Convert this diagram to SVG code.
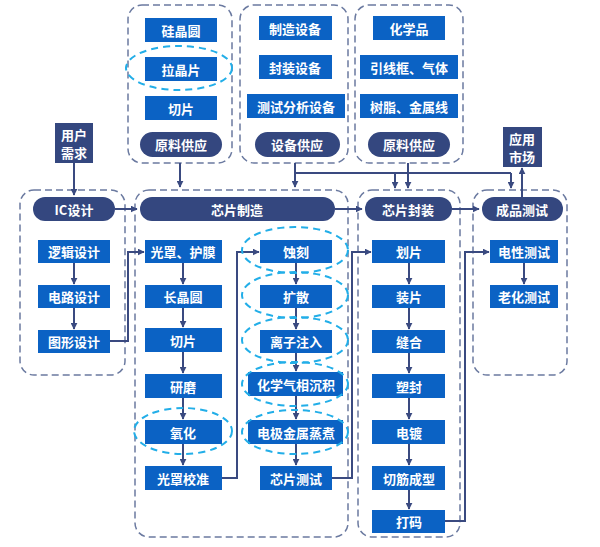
<svg xmlns="http://www.w3.org/2000/svg" width="600" height="547" viewBox="0 0 600 547">
<defs>
<marker id="ar" viewBox="0 0 10 10" refX="9" refY="5" markerWidth="7" markerHeight="7" markerUnits="userSpaceOnUse" orient="auto"><path d="M0,0L10,5L0,10z" fill="#3a4a80"/></marker>
<style>
.b{fill:#0b62c4}
.p{fill:#34477f}
.g{fill:none;stroke:#6b7aa0;stroke-width:1.5;stroke-dasharray:7,4}
.e{fill:none;stroke:#22aee8;stroke-width:2;stroke-dasharray:7,5}
text{font-family:"Noto Sans CJK SC","Liberation Sans",sans-serif;font-size:13px;font-weight:bold;fill:#fff;text-anchor:middle;dominant-baseline:central}
.c path,.c line{fill:none;stroke:#3a4a80;stroke-width:2}
</style>
</defs>
<rect width="600" height="547" fill="#fff"/>
<g id="groups">
<rect class="g" x="128" y="5" width="104" height="158" rx="14"/>
<rect class="g" x="240" y="5" width="108" height="158" rx="14"/>
<rect class="g" x="355" y="5" width="108" height="158" rx="14"/>
<rect class="g" x="20" y="190" width="105" height="185" rx="14"/>
<rect class="g" x="135" y="190" width="213" height="347" rx="14"/>
<rect class="g" x="358" y="190" width="102" height="347" rx="14"/>
<rect class="g" x="473" y="190" width="94" height="185" rx="14"/>
</g>
<g class="c" id="connectors">
<line x1="180" y1="163" x2="180" y2="187" marker-end="url(#ar)"/>
<line x1="295" y1="163" x2="295" y2="187" marker-end="url(#ar)"/>
<path d="M295,173H511"/>
<line x1="395" y1="173" x2="395" y2="188" marker-end="url(#ar)"/>
<line x1="511" y1="173" x2="511" y2="188" marker-end="url(#ar)"/>
<line x1="408" y1="163" x2="408" y2="188" marker-end="url(#ar)"/>
<line x1="74" y1="163" x2="74" y2="195" marker-end="url(#ar)"/>
<line x1="522" y1="197" x2="522" y2="168" marker-end="url(#ar)"/>
<line x1="115" y1="209" x2="137" y2="209" marker-end="url(#ar)"/>
<line x1="335" y1="209" x2="362" y2="209" marker-end="url(#ar)"/>
<line x1="452" y1="209" x2="479" y2="209" marker-end="url(#ar)"/>
<line x1="74" y1="263" x2="74" y2="284" marker-end="url(#ar)"/>
<line x1="74" y1="308" x2="74" y2="329" marker-end="url(#ar)"/>
<path d="M110,341H128V252H144" marker-end="url(#ar)"/>
<line x1="183" y1="263" x2="183" y2="284" marker-end="url(#ar)"/>
<line x1="183" y1="308" x2="183" y2="327" marker-end="url(#ar)"/>
<line x1="183" y1="352" x2="183" y2="373" marker-end="url(#ar)"/>
<line x1="183" y1="398" x2="183" y2="419" marker-end="url(#ar)"/>
<line x1="183" y1="444" x2="183" y2="465" marker-end="url(#ar)"/>
<path d="M222,478H237V252H259" marker-end="url(#ar)"/>
<line x1="296" y1="263" x2="296" y2="284" marker-end="url(#ar)"/>
<line x1="296" y1="308" x2="296" y2="329" marker-end="url(#ar)"/>
<line x1="296" y1="353" x2="296" y2="371" marker-end="url(#ar)"/>
<line x1="296" y1="396" x2="296" y2="419" marker-end="url(#ar)"/>
<line x1="296" y1="444" x2="296" y2="465" marker-end="url(#ar)"/>
<path d="M332,478H352V252H371" marker-end="url(#ar)"/>
<line x1="409" y1="263" x2="409" y2="284" marker-end="url(#ar)"/>
<line x1="409" y1="308" x2="409" y2="329" marker-end="url(#ar)"/>
<line x1="409" y1="353" x2="409" y2="373" marker-end="url(#ar)"/>
<line x1="409" y1="398" x2="409" y2="419" marker-end="url(#ar)"/>
<line x1="409" y1="444" x2="409" y2="465" marker-end="url(#ar)"/>
<line x1="409" y1="490" x2="409" y2="509" marker-end="url(#ar)"/>
<path d="M445,521H465V252H489" marker-end="url(#ar)"/>
<line x1="524" y1="263" x2="524" y2="284" marker-end="url(#ar)"/>
</g>
<g id="n-gjy"><rect class="b" x="145" y="18" width="72" height="24"/><text x="181" y="30">硅晶圆</text></g>
<g id="n-ljp"><rect class="b" x="145" y="57" width="72" height="24"/><text x="181" y="69">拉晶片</text></g>
<g id="n-qp1"><rect class="b" x="145" y="96" width="72" height="24"/><text x="181" y="108">切片</text></g>
<g id="n-ylgy1"><rect class="p" x="140" y="132" width="82" height="25" rx="12.5"/><text x="181" y="144.5">原料供应</text></g>
<g id="n-zzsb"><rect class="b" x="259" y="16" width="73" height="24"/><text x="295" y="28">制造设备</text></g>
<g id="n-fzsb"><rect class="b" x="259" y="55" width="73" height="24"/><text x="295" y="67">封装设备</text></g>
<g id="n-csfx"><rect class="b" x="247" y="94" width="98" height="24"/><text x="296" y="106">测试分析设备</text></g>
<g id="n-sbgy"><rect class="p" x="255" y="132" width="85" height="25" rx="12.5"/><text x="297" y="144.5">设备供应</text></g>
<g id="n-hxp"><rect class="b" x="373" y="16" width="72" height="24"/><text x="409" y="28">化学品</text></g>
<g id="n-yxk"><rect class="b" x="360" y="55" width="98" height="24"/><text x="409" y="67">引线框、气体</text></g>
<g id="n-sz"><rect class="b" x="360" y="94" width="98" height="24"/><text x="409" y="106">树脂、金属线</text></g>
<g id="n-ylgy2"><rect class="p" x="368" y="132" width="82" height="25" rx="12.5"/><text x="409" y="144.5">原料供应</text></g>
<g id="n-yhxq"><rect class="p" x="55" y="123" width="38" height="40"/><text x="74" y="134">用户</text><text x="74" y="152">需求</text></g>
<g id="n-yysc"><rect class="p" x="503" y="127" width="39" height="40"/><text x="522" y="138">应用</text><text x="522" y="156">市场</text></g>
<g id="n-ic"><rect class="p" x="33" y="197" width="82" height="24" rx="12"/><text x="74" y="209">IC设计</text></g>
<g id="n-xpzz"><rect class="p" x="140" y="197" width="195" height="24" rx="12"/><text x="237" y="209">芯片制造</text></g>
<g id="n-xpfz"><rect class="p" x="365" y="197" width="87" height="24" rx="12"/><text x="408" y="209">芯片封装</text></g>
<g id="n-cpcs"><rect class="p" x="482" y="197" width="81" height="24" rx="12"/><text x="522" y="209">成品测试</text></g>
<g id="n-ljsj"><rect class="b" x="38" y="240" width="72" height="23"/><text x="74" y="251.5">逻辑设计</text></g>
<g id="n-dlsj"><rect class="b" x="38" y="285" width="72" height="23"/><text x="74" y="296.5">电路设计</text></g>
<g id="n-txsj"><rect class="b" x="38" y="330" width="72" height="23"/><text x="74" y="341.5">图形设计</text></g>
<g id="n-gzhm"><rect class="b" x="145" y="240" width="77" height="23"/><text x="183" y="251.5">光罩、护膜</text></g>
<g id="n-cjy"><rect class="b" x="145" y="285" width="77" height="23"/><text x="183" y="296.5">长晶圆</text></g>
<g id="n-qp2"><rect class="b" x="145" y="328" width="77" height="24"/><text x="183" y="340">切片</text></g>
<g id="n-ym"><rect class="b" x="145" y="374" width="77" height="24"/><text x="183" y="386">研磨</text></g>
<g id="n-yh"><rect class="b" x="145" y="420" width="77" height="24"/><text x="183" y="432">氧化</text></g>
<g id="n-gzjz"><rect class="b" x="145" y="466" width="77" height="24"/><text x="183" y="478">光罩校准</text></g>
<g id="n-sk"><rect class="b" x="260" y="240" width="72" height="23"/><text x="296" y="251.5">蚀刻</text></g>
<g id="n-ks"><rect class="b" x="260" y="285" width="72" height="23"/><text x="296" y="296.5">扩散</text></g>
<g id="n-lzzr"><rect class="b" x="260" y="330" width="72" height="23"/><text x="296" y="341.5">离子注入</text></g>
<g id="n-hxqx"><rect class="b" x="248" y="372" width="95" height="24"/><text x="296" y="384">化学气相沉积</text></g>
<g id="n-djjs"><rect class="b" x="248" y="420" width="95" height="24"/><text x="296" y="432">电极金属蒸煮</text></g>
<g id="n-xpcs"><rect class="b" x="260" y="466" width="72" height="24"/><text x="296" y="478">芯片测试</text></g>
<g id="n-hp"><rect class="b" x="372" y="240" width="73" height="23"/><text x="409" y="251.5">划片</text></g>
<g id="n-zp"><rect class="b" x="372" y="285" width="73" height="23"/><text x="409" y="296.5">装片</text></g>
<g id="n-fh"><rect class="b" x="372" y="330" width="73" height="23"/><text x="409" y="341.5">缝合</text></g>
<g id="n-sf"><rect class="b" x="372" y="374" width="73" height="24"/><text x="409" y="386">塑封</text></g>
<g id="n-dd"><rect class="b" x="372" y="420" width="73" height="24"/><text x="409" y="432">电镀</text></g>
<g id="n-qjcx"><rect class="b" x="372" y="466" width="73" height="24"/><text x="409" y="478">切筋成型</text></g>
<g id="n-dm"><rect class="b" x="372" y="510" width="73" height="23"/><text x="409" y="521.5">打码</text></g>
<g id="n-dxcs"><rect class="b" x="490" y="240" width="68" height="23"/><text x="524" y="251.5">电性测试</text></g>
<g id="n-lhcs"><rect class="b" x="490" y="285" width="68" height="23"/><text x="524" y="296.5">老化测试</text></g>
<g id="highlights">
<ellipse class="e" cx="179" cy="68" rx="53" ry="22"/>
<ellipse class="e" cx="183" cy="431" rx="49" ry="23"/>
<ellipse class="e" cx="295" cy="250" rx="53" ry="23"/>
<ellipse class="e" cx="295" cy="295" rx="53" ry="23"/>
<ellipse class="e" cx="295" cy="340" rx="53" ry="23"/>
<ellipse class="e" cx="295" cy="384" rx="53" ry="22"/>
<ellipse class="e" cx="295" cy="432" rx="53" ry="22"/>
</g>
</svg>
